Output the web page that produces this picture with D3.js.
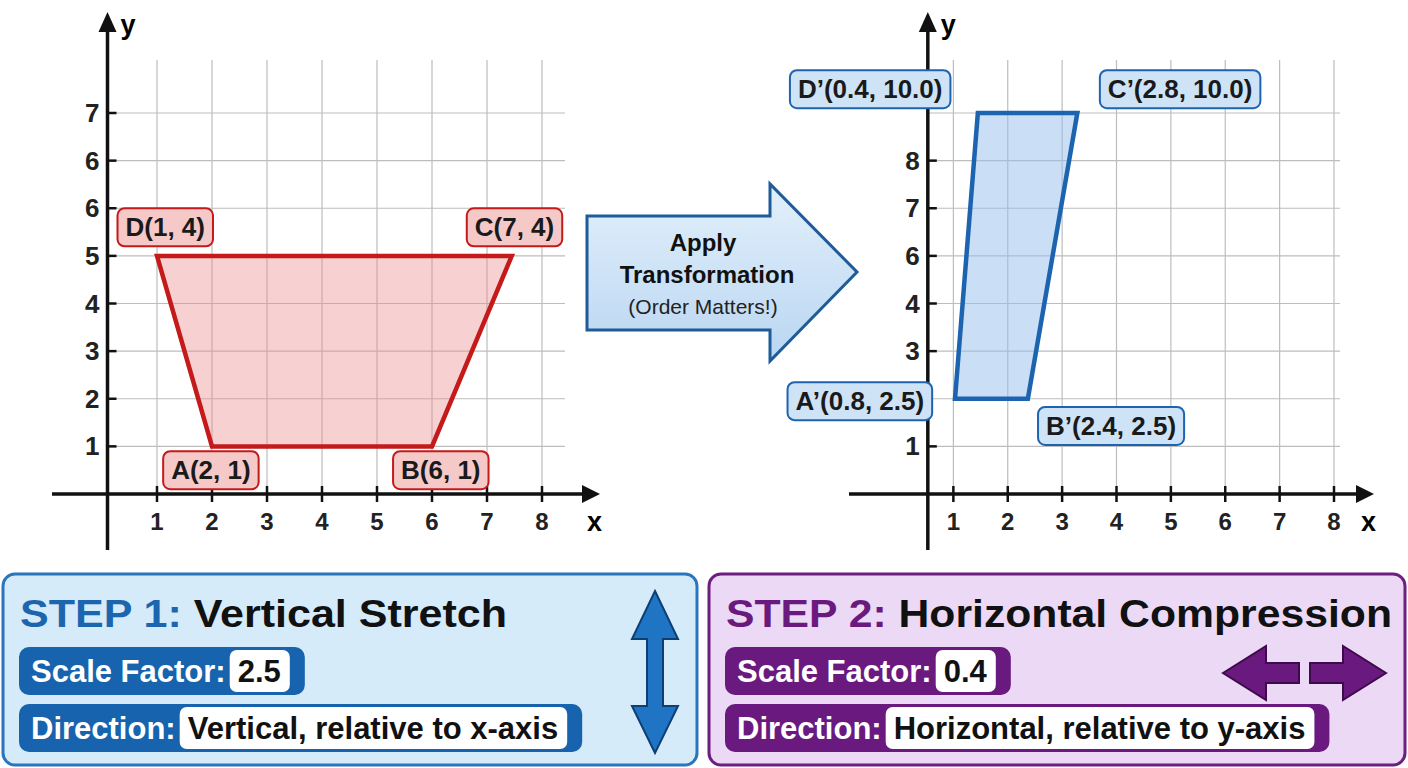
<!DOCTYPE html>
<html><head><meta charset="utf-8">
<script src="https://cdn.jsdelivr.net/npm/d3@7"></script>
<style>body{margin:0;background:#fff}svg{display:block;font-family:"Liberation Sans",Arial,sans-serif}</style>
</head><body><svg id="c" width="1408" height="768"></svg>
<script>
// ---- data ----
const gridUnits = [1,2,3,4,5,6,7,8];
const leftXTickLabels = ["1","2","3","4","5","6","7","8"];
const leftYTickPos = [1,2,3,4,5,6,7,8];
const leftYTickLabels = ["1","2","3","4","5","6","6","7"];
const rightYTickPos = [1,3,4,5,6,7];
const rightYTickLabels = ["1","3","4","6","7","8"];
const leftShape = [[2,1],[6,1],[7.45,5],[1,5]];
const rightShape = [[1.03,2],[2.37,2],[3.28,8],[1.45,8]];
const leftLabels = [
  {t:"D(1, 4)", x:1.15, y:5.6},
  {t:"C(7, 4)", x:7.5, y:5.6},
  {t:"A(2, 1)", x:1.98, y:0.5},
  {t:"B(6, 1)", x:6.16, y:0.5}];
const rightLabels = [
  {t:"D\u2019(0.4, 10.0)", x:-0.53, y:8.5},
  {t:"C\u2019(2.8, 10.0)", x:5.17, y:8.5},
  {t:"A\u2019(0.8, 2.5)", x:-0.72, y:1.95},
  {t:"B\u2019(2.4, 2.5)", x:3.9, y:1.43}];
const steps = [
  {head:"STEP 1:", title:"Vertical Stretch", factor:"2.5", dir:"Vertical, relative to x-axis"},
  {head:"STEP 2:", title:"Horizontal Compression", factor:"0.4", dir:"Horizontal, relative to y-axis"}];

const svg = d3.select("#c");
const defs = svg.append("defs");
const g1 = defs.append("linearGradient").attr("id","ag").attr("x1",0).attr("x2",0).attr("y1",0).attr("y2",1);
g1.append("stop").attr("offset",0).attr("stop-color","#e3f0fb");
g1.append("stop").attr("offset",1).attr("stop-color","#b9d6f2");

function plane(o){
  const x = d3.scaleLinear().domain([0,8]).range(o.xr);
  const y = d3.scaleLinear().domain([0,8]).range([494,113]);
  const g = svg.append("g");
  const ax = x(o.axisX);
  g.selectAll(".gv").data(gridUnits).join("line").attr("x1",d=>x(d)).attr("x2",d=>x(d))
    .attr("y1",60).attr("y2",494).attr("stroke","#bdbdbd").attr("stroke-width",1.2);
  g.selectAll(".gh").data(gridUnits).join("line").attr("x1",ax).attr("x2",o.gridEnd)
    .attr("y1",d=>y(d)).attr("y2",d=>y(d)).attr("stroke","#bdbdbd").attr("stroke-width",1.2);
  g.append("path").attr("d", d3.line().x(d=>x(d[0])).y(d=>y(d[1]))(o.shape)+"Z")
    .attr("fill",o.fill).attr("stroke",o.stroke).attr("stroke-width",4.5).attr("stroke-linejoin","miter");
  g.append("line").attr("x1",o.xr[0]-50).attr("x2",o.xEnd-10).attr("y1",494).attr("y2",494)
    .attr("stroke","#111").attr("stroke-width",3.5);
  g.append("path").attr("d",`M${o.xEnd},494 L${o.xEnd-18},485 L${o.xEnd-18},503Z`).attr("fill","#111");
  g.append("line").attr("x1",ax).attr("x2",ax).attr("y1",550).attr("y2",30).attr("stroke","#111").attr("stroke-width",3.5);
  g.append("path").attr("d",`M${ax},12 L${ax-9},32 L${ax+9},32Z`).attr("fill","#111");
  g.append("text").attr("x",ax+13).attr("y",34).text("y").attr("font-size",27).attr("font-weight",700);
  g.append("text").attr("x",o.xEnd-13).attr("y",531).text("x").attr("font-size",27).attr("font-weight",700);
  g.selectAll(".xt").data(gridUnits).join("line").attr("x1",d=>x(d)).attr("x2",d=>x(d)).attr("y1",486).attr("y2",502)
    .attr("stroke","#111").attr("stroke-width",2.5);
  g.selectAll(".xl").data(gridUnits).join("text").attr("x",d=>x(d)).attr("y",530).attr("text-anchor","middle")
    .attr("font-size",24).attr("font-weight",700).attr("fill","#222").text((d,i)=>leftXTickLabels[i]);
  g.selectAll(".yt").data(o.yPos).join("line").attr("x1",ax-1).attr("x2",ax+9).attr("y1",d=>y(d)).attr("y2",d=>y(d))
    .attr("stroke","#111").attr("stroke-width",2.5);
  g.selectAll(".yl").data(o.yPos).join("text").attr("x",ax-8).attr("y",d=>y(d)+9).attr("text-anchor","end")
    .attr("font-size",26).attr("font-weight",700).attr("fill","#222").text((d,i)=>o.yLab[i]);
  o.labels.forEach(l=>{
    const t = g.append("text").attr("x",x(l.x)).attr("y",y(l.y)+9).attr("text-anchor","middle")
      .attr("font-size",26).attr("font-weight",700).attr("fill","#1a1a1a").text(l.t);
    const b = t.node().getBBox();
    g.insert("rect", ()=>t.node()).attr("x",b.x-8).attr("y",y(l.y)-19).attr("width",b.width+16).attr("height",38)
      .attr("rx",7).attr("fill",o.lfill).attr("stroke",o.stroke).attr("stroke-width",2);
  });
}
plane({xr:[102,542], axisX:0.1, gridEnd:565, xEnd:600, shape:leftShape, fill:"rgba(236,140,140,0.4)", stroke:"#c41a1a",
  yPos:leftYTickPos, yLab:leftYTickLabels, labels:leftLabels, lfill:"#f6c9c9"});
plane({xr:[899,1334], axisX:0.53, gridEnd:1340, xEnd:1374, shape:rightShape, fill:"rgba(150,190,235,0.5)", stroke:"#1d64b0",
  yPos:rightYTickPos, yLab:rightYTickLabels, labels:rightLabels, lfill:"#cfe3f7"});

svg.append("path").attr("d","M587,216 L770,216 L770,184 L857,272 L770,361 L770,330 L587,330Z")
  .attr("fill","url(#ag)").attr("stroke","#1f5b98").attr("stroke-width",3).attr("stroke-linejoin","miter");
svg.append("text").attr("x",703).attr("y",251).attr("text-anchor","middle").attr("font-size",24).attr("font-weight",700).attr("fill","#111").text("Apply");
svg.append("text").attr("x",707).attr("y",283).attr("text-anchor","middle").attr("font-size",24).attr("font-weight",700).attr("fill","#111").text("Transformation");
svg.append("text").attr("x",703).attr("y",314).attr("text-anchor","middle").attr("font-size",21).attr("fill","#222").text("(Order Matters!)");

const panels = [
  {x:3, w:694, fill:"#d5ebf9", stroke:"#2a76bd", dark:"#1763ad", head:"#1c66b0"},
  {x:709, w:696, fill:"#ecd9f5", stroke:"#6d1f80", dark:"#6a1a7f", head:"#6a1a7f"}];
panels.forEach((p,i)=>{
  const s = steps[i];
  const g = svg.append("g");
  g.append("rect").attr("x",p.x).attr("y",574).attr("width",p.w).attr("height",191).attr("rx",12)
    .attr("fill",p.fill).attr("stroke",p.stroke).attr("stroke-width",3);
  const tt = g.append("text").attr("x",p.x+17).attr("y",627).attr("font-size",39).attr("font-weight",700)
    .attr("textLength", i===0?487:666).attr("lengthAdjust","spacingAndGlyphs");
  tt.append("tspan").attr("fill",p.head).text(s.head+" ");
  tt.append("tspan").attr("fill","#111").text(s.title);
  function row(yy,lab,val){
    const lt = g.append("text").attr("x",p.x+28).attr("y",yy+34).attr("font-size",31).attr("font-weight",700).attr("fill","#fff").text(lab);
    const lw = lt.node().getComputedTextLength();
    const vt = g.append("text").attr("x",p.x+28+lw+12).attr("y",yy+34).attr("font-size",31).attr("font-weight",700).attr("fill","#111").text(val);
    const vw = vt.node().getComputedTextLength();
    g.insert("rect",()=>lt.node()).attr("x",p.x+17).attr("y",yy).attr("width",lw+vw+46).attr("height",46).attr("rx",9)
      .attr("fill",p.dark).attr("stroke",p.dark).attr("stroke-width",2);
    g.insert("rect",()=>lt.node()).attr("x",p.x+28+lw+4).attr("y",yy+2).attr("width",vw+17).attr("height",42).attr("rx",7)
      .attr("fill","#fff");
  }
  row(648,"Scale Factor:",s.factor);
  row(705,"Direction:",s.dir);
});
svg.append("path").attr("d","M655,591 L678,639 L663,639 L663,706 L678,706 L655,753 L632,706 L647,706 L647,639 L632,639Z")
  .attr("fill","#1f74c4").attr("stroke","#0d3f74").attr("stroke-width",2);
svg.append("path").attr("d","M1223,673 L1266,646 L1266,663 L1299,663 L1299,683 L1266,683 L1266,700Z")
  .attr("fill","#6a1a7f").attr("stroke","#3d0a4b").attr("stroke-width",2);
svg.append("path").attr("d","M1386,673 L1343,646 L1343,663 L1310,663 L1310,683 L1343,683 L1343,700Z")
  .attr("fill","#6a1a7f").attr("stroke","#3d0a4b").attr("stroke-width",2);
</script></body></html>
